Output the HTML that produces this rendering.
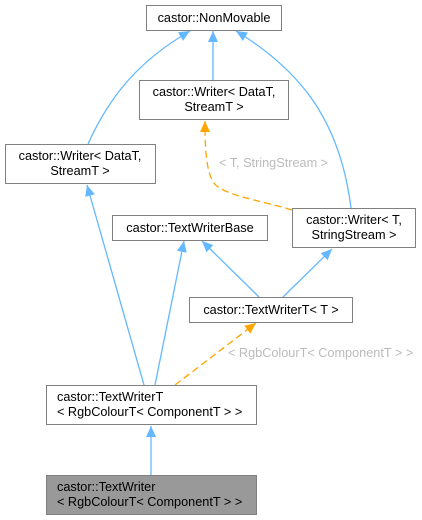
<!DOCTYPE html>
<html><head><style>
body{margin:0;background:#fff;}
svg{display:block;}
text{font-family:"Liberation Sans",Arial,sans-serif;font-size:12.7px;}
</style></head><body>
<svg width="422" height="520" viewBox="0 0 422 520" xmlns="http://www.w3.org/2000/svg">
<defs>
<marker id="b" markerUnits="userSpaceOnUse" markerWidth="12" markerHeight="12" refX="11" refY="5" orient="auto"><path d="M0,0 L11,5 L0,10 Z" fill="#63b8ff"/></marker>
<marker id="o" markerUnits="userSpaceOnUse" markerWidth="12" markerHeight="12" refX="11" refY="5" orient="auto"><path d="M0,0 L11,5 L0,10 Z" fill="#ffa500"/></marker>
</defs>
<g fill="none" stroke="#63b8ff" stroke-width="1.3">
<path d="M88,144 C110,95 140,60 190,31" marker-end="url(#b)"/>
<path d="M213,80 L213,31" marker-end="url(#b)"/>
<path d="M351,208 C340,120 300,70 236,31" marker-end="url(#b)"/>
<path d="M144,385 L87,185" marker-end="url(#b)"/>
<path d="M155,385 L184,241" marker-end="url(#b)"/>
<path d="M259,297 L202,241" marker-end="url(#b)"/>
<path d="M283,297 L332,249" marker-end="url(#b)"/>
<path d="M151,475 L151,426" marker-end="url(#b)"/>
</g>
<g fill="none" stroke="#ffa500" stroke-width="1.3" stroke-dasharray="7,4">
<path d="M292,210 C260,200 218,195 212,180 C205,165 205,140 205,121" marker-end="url(#o)"/>
<path d="M175,385 L256,323" marker-end="url(#o)"/>
</g>
<g stroke="#808080" stroke-width="1" fill="#fff">
<rect x="146.5" y="5.5" width="135" height="25"/>
<rect x="139.5" y="80.5" width="149" height="39"/>
<rect x="5.5" y="144.5" width="150" height="39"/>
<rect x="112.5" y="215.5" width="155" height="25"/>
<rect x="292.5" y="208.5" width="123" height="39"/>
<rect x="189.5" y="297.5" width="163" height="25"/>
<rect x="46.5" y="385.5" width="210" height="39"/>
<rect x="46.5" y="475.5" width="210" height="39" fill="#999"/>
</g>
<g fill="#000">
<text x="214" y="22" text-anchor="middle">castor::NonMovable</text>
<text x="214" y="96" text-anchor="middle">castor::Writer&lt; DataT,</text>
<text x="214" y="111" text-anchor="middle">StreamT &gt;</text>
<text x="80" y="160" text-anchor="middle">castor::Writer&lt; DataT,</text>
<text x="80" y="175" text-anchor="middle">StreamT &gt;</text>
<text x="190" y="232" text-anchor="middle">castor::TextWriterBase</text>
<text x="354" y="224" text-anchor="middle">castor::Writer&lt; T,</text>
<text x="354" y="239" text-anchor="middle">StringStream &gt;</text>
<text x="271" y="314" text-anchor="middle">castor::TextWriterT&lt; T &gt;</text>
<text x="57" y="401">castor::TextWriterT</text>
<text x="57" y="416">&lt; RgbColourT&lt; ComponentT &gt; &gt;</text>
<text x="57" y="491">castor::TextWriter</text>
<text x="57" y="506">&lt; RgbColourT&lt; ComponentT &gt; &gt;</text>
</g>
<g fill="#bbb">
<text x="219" y="167">&lt; T, StringStream &gt;</text>
<text x="228" y="357">&lt; RgbColourT&lt; ComponentT &gt; &gt;</text>
</g>
</svg>
</body></html>
